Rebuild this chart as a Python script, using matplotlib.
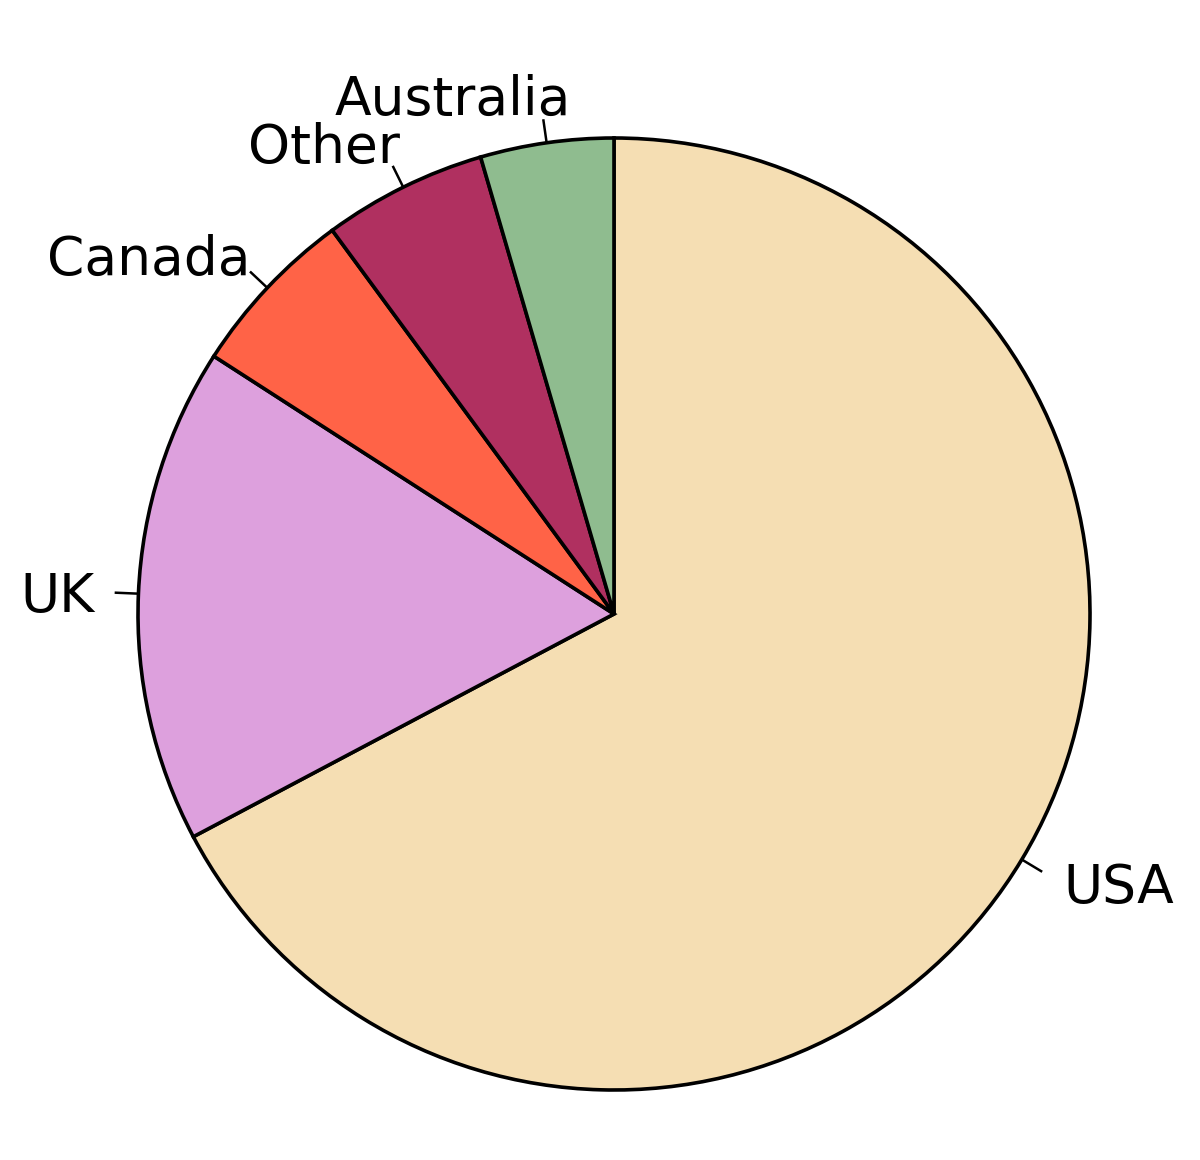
import numpy as np
import matplotlib
matplotlib.use('Agg')
import matplotlib.pyplot as plt

# share of each region, clockwise from 12 o'clock
regions = ['USA', 'UK', 'Canada', 'Other', 'Australia']
shares = [67.25, 16.86, 5.81, 5.56, 4.52]
colors = ['#F5DEB3', '#DDA0DD', '#FF6347', '#B03060', '#8FBC8F']

# where the label text sits (data units, radius = 1) and how it is aligned
label_pos = [(0.945, -0.607), (-1.092, 0.004), (-0.763, 0.712), (-0.450, 0.947), (-0.091, 1.048)]
label_ha = ['left', 'right', 'right', 'right', 'right']

plt.rcParams['font.family'] = ['DejaVu Sans']

fig = plt.figure(figsize=(12, 11.6), dpi=100)
ax = fig.add_axes([0, 0, 1, 1])

wedges, _ = ax.pie(shares, colors=colors, startangle=90, counterclock=False,
                   radius=1, wedgeprops=dict(edgecolor='black', linewidth=2.6))

# leader lines at the middle of each wedge, then the text
for w, name, (tx, ty), ha in zip(wedges, regions, label_pos, label_ha):
    mid = np.deg2rad((w.theta1 + w.theta2) / 2)
    ax.plot([np.cos(mid), 1.05 * np.cos(mid)], [np.sin(mid), 1.05 * np.sin(mid)],
            color='black', linewidth=1.8, solid_capstyle='butt')
    ax.text(tx, ty, name, ha=ha, va='baseline', fontsize=38.5)

ax.set_xlim(-614 / 476, (1200 - 614) / 476)
ax.set_ylim(-(1160 - 614) / 476, 614 / 476)
ax.set_aspect('auto')
ax.axis('off')

plt.savefig('out.png', dpi=100)
